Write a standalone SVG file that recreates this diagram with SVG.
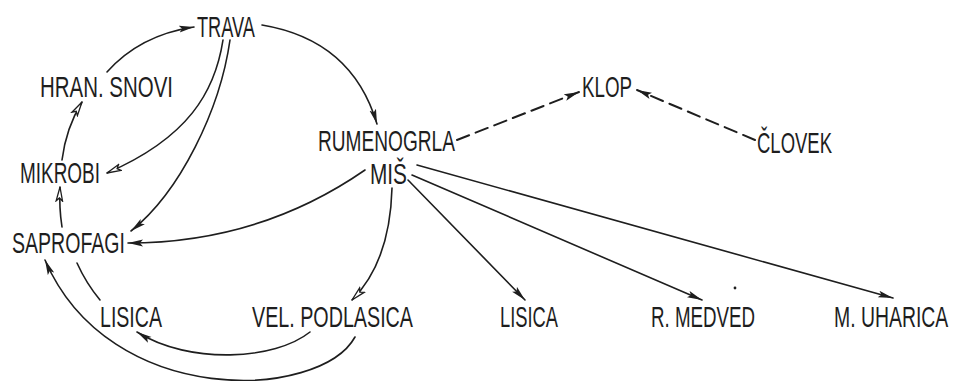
<svg xmlns="http://www.w3.org/2000/svg" width="957" height="381" viewBox="0 0 957 381">
  <style>
    .lbl { font-family: "Liberation Sans", Arial, sans-serif; font-size: 30px; fill: #1e1e1e; }
    .edge { fill: none; stroke: #1e1e1e; stroke-width: 1.6; stroke-linecap: round; }
    .solid { marker-end: url(#head); }
    .open { marker-end: url(#hollow); }
    .dash { stroke-dasharray: 13 7; stroke-width: 2; marker-end: url(#head); }
  </style>
  <defs>
    <marker id="head" viewBox="0 0 15 8" refX="15" refY="4" markerWidth="15" markerHeight="8" markerUnits="userSpaceOnUse" orient="auto">
      <path d="M0,0.6 L15,4 L0,7.4 L3,4 z" fill="#1e1e1e"/>
    </marker>
    <marker id="hollow" viewBox="-1 -1 16 10" refX="14" refY="4" markerWidth="16" markerHeight="10" markerUnits="userSpaceOnUse" orient="auto">
      <path d="M0,0.8 L14,4 L0,7.2 L3,4 z" fill="#fff" stroke="#1e1e1e" stroke-width="1.3" stroke-linejoin="miter"/>
    </marker>
  </defs>

  <rect width="957" height="381" fill="#fff"/>

  <!-- connectors -->
  <g id="connectors">
    <!-- HRAN. SNOVI -> TRAVA -->
    <path class="edge solid" d="M107,72 Q140,35 194,27"/>
    <!-- TRAVA -> RUMENOGRLA MIŠ -->
    <path class="edge solid" d="M262,25 Q352,40 377,124"/>
    <!-- TRAVA -> MIKROBI -->
    <path class="edge open" d="M223,40 C215,92 188,138 107,173"/>
    <!-- TRAVA -> SAPROFAGI -->
    <path class="edge solid" d="M230,40 C220,110 180,192 131,231"/>
    <!-- MIKROBI -> HRAN. SNOVI -->
    <path class="edge open" d="M62,160 Q66,128 82,102"/>
    <!-- SAPROFAGI -> MIKROBI -->
    <path class="edge open" d="M62,227 Q59,208 60,187"/>
    <!-- MIŠ -> SAPROFAGI -->
    <path class="edge solid" d="M365,170 C300,215 220,243 128,243"/>
    <!-- MIŠ -> VEL. PODLASICA -->
    <path class="edge open" d="M392,188 Q390,262 352,300"/>
    <!-- LISICA -> SAPROFAGI -->
    <path class="edge" d="M100,300 Q86,283 77,263"/>
    <!-- VEL. PODLASICA -> LISICA -->
    <path class="edge solid" d="M310,332 C275,360 190,365 137,332"/>
    <!-- VEL. PODLASICA -> SAPROFAGI -->
    <path class="edge solid" d="M355,337 C320,400 110,410 45,260"/>
    <!-- MIŠ -> LISICA -->
    <path class="edge solid" d="M408,180 L525,300"/>
    <!-- MIŠ -> R. MEDVED -->
    <path class="edge solid" d="M412,175 L702,300"/>
    <!-- MIŠ -> M. UHARICA -->
    <path class="edge solid" d="M417,165 L893,298"/>
    <!-- RUMENOGRLA MIŠ -> KLOP -->
    <path class="edge dash" d="M457,140 L579,92"/>
    <!-- ČLOVEK -> KLOP -->
    <path class="edge dash" d="M755,140 L637,90"/>
  </g>

  <!-- nodes -->
  <g id="trava"><text class="lbl" x="197" y="37" textLength="58" lengthAdjust="spacingAndGlyphs">TRAVA</text></g>
  <g id="hran-snovi"><text class="lbl" x="40" y="97" textLength="133" lengthAdjust="spacingAndGlyphs">HRAN. SNOVI</text></g>
  <g id="mikrobi"><text class="lbl" x="20" y="183" textLength="80" lengthAdjust="spacingAndGlyphs">MIKROBI</text></g>
  <g id="saprofagi"><text class="lbl" x="12" y="253" textLength="113" lengthAdjust="spacingAndGlyphs">SAPROFAGI</text></g>
  <g id="lisica-1"><text class="lbl" x="100" y="327" textLength="62" lengthAdjust="spacingAndGlyphs">LISICA</text></g>
  <g id="vel-podlasica"><text class="lbl" x="252" y="327" textLength="161" lengthAdjust="spacingAndGlyphs">VEL. PODLASICA</text></g>
  <g id="rumenogrla-mis">
    <text class="lbl" x="318" y="151" textLength="137" lengthAdjust="spacingAndGlyphs">RUMENOGRLA</text>
    <text class="lbl" x="370" y="184" textLength="37" lengthAdjust="spacingAndGlyphs" font-size="28">MIŠ</text>
  </g>
  <g id="klop"><text class="lbl" x="582" y="97" textLength="50" lengthAdjust="spacingAndGlyphs">KLOP</text></g>
  <g id="clovek"><text class="lbl" x="757" y="153" textLength="75" lengthAdjust="spacingAndGlyphs">ČLOVEK</text></g>
  <g id="lisica-2"><text class="lbl" x="500" y="327" textLength="58" lengthAdjust="spacingAndGlyphs">LISICA</text></g>
  <g id="r-medved"><text class="lbl" x="651" y="327" textLength="104" lengthAdjust="spacingAndGlyphs">R. MEDVED</text></g>
  <!-- condensed horizontally so the label stays inside the right edge -->
  <g id="m-uharica" transform="translate(834,327) scale(0.68,1)"><text class="lbl" x="0" y="0" textLength="168" lengthAdjust="spacingAndGlyphs">M. UHARICA</text></g>

  <!-- small speck near R. MEDVED -->
  <circle cx="735" cy="288" r="1.4" fill="#1e1e1e"/>
</svg>
